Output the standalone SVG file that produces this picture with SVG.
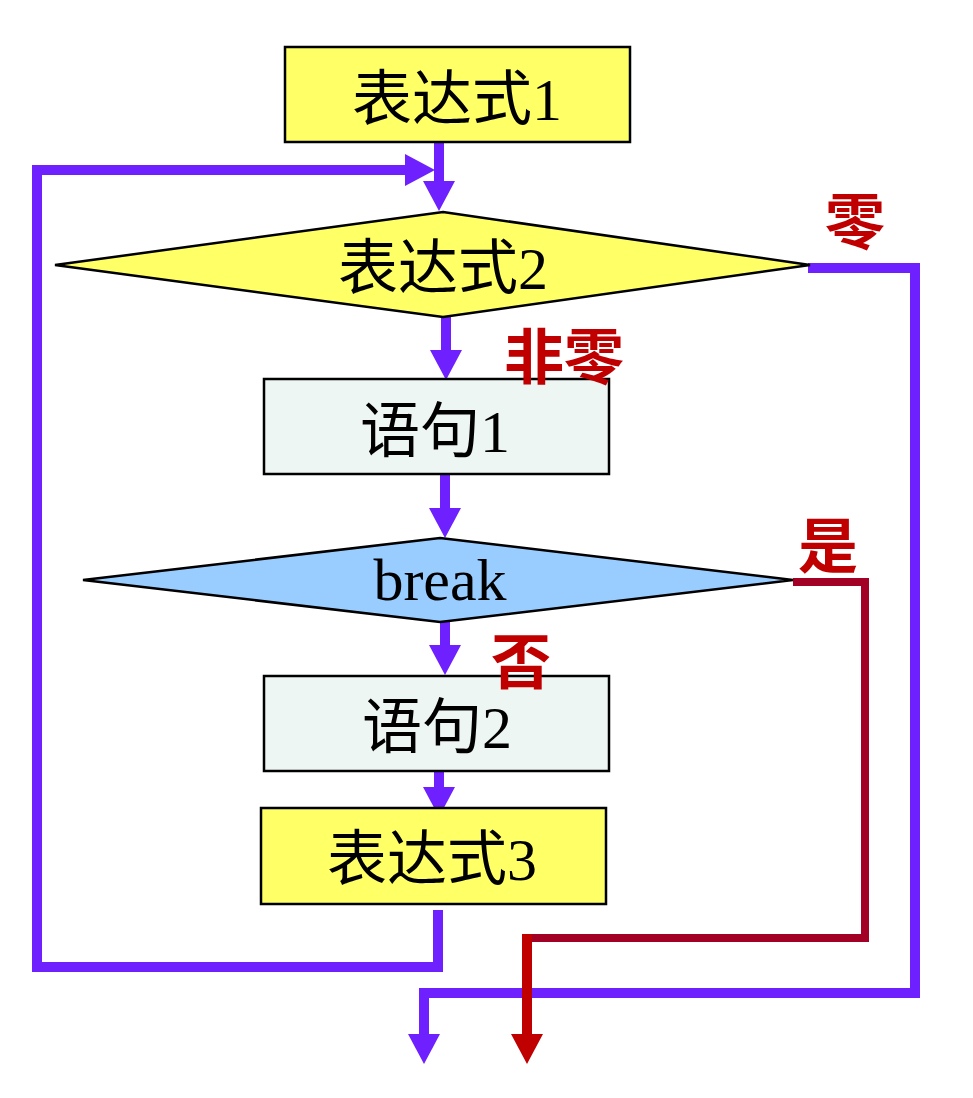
<svg xmlns="http://www.w3.org/2000/svg" width="973" height="1098" viewBox="0 0 973 1098">
<style>
.box{stroke:#000;stroke-width:2.5}
.yellow{fill:#FFFF66}
.mint{fill:#EDF6F2}
.blue{fill:#99CCFF}
.t{font-family:"Liberation Serif","Noto Sans CJK SC",serif;font-size:60px;fill:#000;text-anchor:middle}
.lbl{font-family:"Liberation Serif","Noto Sans CJK SC",serif;font-size:60px;font-weight:bold;fill:#C00000;text-anchor:middle}
.pl{fill:none;stroke:#6F20FF;stroke-width:10;stroke-linejoin:miter;stroke-linecap:butt}
.dr{fill:none;stroke:#A20025;stroke-width:8;stroke-linejoin:miter;stroke-linecap:butt}
.rr{fill:none;stroke:#C00000;stroke-width:10;stroke-linecap:butt}
</style>
<defs>
<marker id="ap" markerUnits="userSpaceOnUse" viewBox="0 0 30 32" refX="0" refY="16" markerWidth="30" markerHeight="32" orient="auto">
<path d="M0,0 L30,16 L0,32 Z" fill="#6F20FF"/>
</marker>
<marker id="ar" markerUnits="userSpaceOnUse" viewBox="0 0 30 32" refX="0" refY="16" markerWidth="30" markerHeight="32" orient="auto">
<path d="M0,0 L30,16 L0,32 Z" fill="#C00000"/>
</marker>
</defs>

<g id="connectors">
<path class="pl" d="M439,142 V181" marker-end="url(#ap)"/>
<path class="pl" d="M438,910 V967 H37 V170 H405" marker-end="url(#ap)"/>
<path class="pl" d="M446,317 V350" marker-end="url(#ap)"/>
<path class="pl" d="M445,475 V508" marker-end="url(#ap)"/>
<path class="pl" d="M445,622 V645" marker-end="url(#ap)"/>
<path class="pl" d="M439,764 V787" marker-end="url(#ap)"/>
<path class="pl" d="M808,268 H915 V993 H424 V1034" marker-end="url(#ap)"/>
<path class="dr" d="M793,582 H865 V938 H522"/>
<path class="rr" d="M527,934 V1034" marker-end="url(#ar)"/>
</g>

<g id="expr1">
<rect class="box yellow" x="285" y="47" width="345" height="95"/>
<text class="t" x="457" y="120">表达式1</text>
</g>

<g id="cond2">
<polygon class="box yellow" points="443,212 810,265 443,317 55,265"/>
<text class="t" x="443" y="289">表达式2</text>
</g>

<g id="stmt1">
<rect class="box mint" x="264" y="379" width="345" height="95"/>
<text class="t" x="435" y="452">语句1</text>
</g>

<g id="brk">
<polygon class="box blue" points="440,538 793,580 440,622 83,580"/>
<text class="t" x="440" y="600">break</text>
</g>

<g id="stmt2">
<rect class="box mint" x="264" y="676" width="345" height="95"/>
<text class="t" x="437" y="748">语句2</text>
</g>

<g id="expr3">
<rect class="box yellow" x="261" y="808" width="345" height="96"/>
<text class="t" x="432" y="880">表达式3</text>
</g>

<g id="labels">
<text class="lbl" x="855" y="244">零</text>
<text class="lbl" x="564" y="379">非零</text>
<text class="lbl" x="828" y="568">是</text>
<text class="lbl" x="521" y="684">否</text>
</g>
</svg>
